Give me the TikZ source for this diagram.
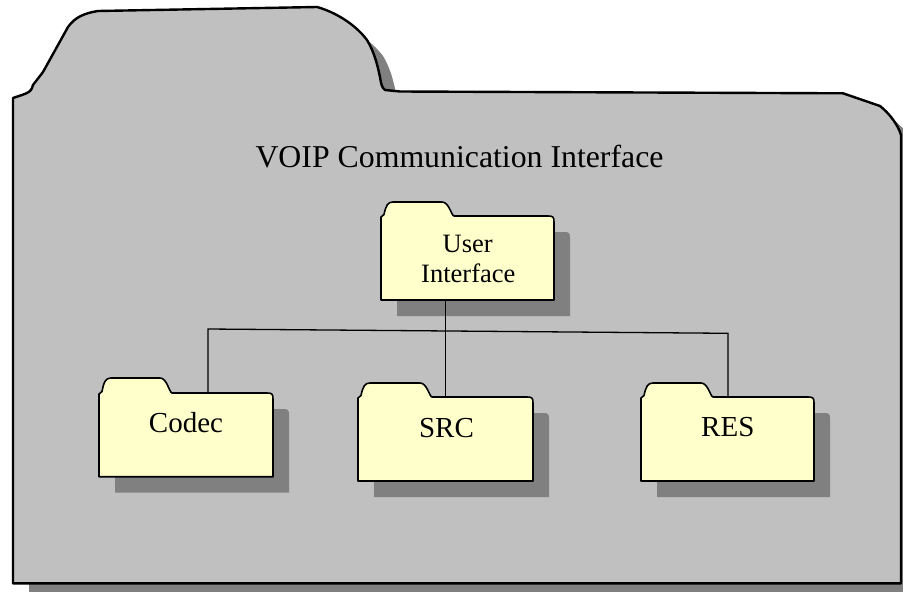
\documentclass[tikz,border=0pt]{standalone}
\usepackage{fontspec}
\setmainfont{Liberation Serif}

\definecolor{paneGray}{HTML}{C0C0C0}
\definecolor{dropGray}{HTML}{808080}
\definecolor{paper}{HTML}{FFFFCC}

\tikzset{
  outer/.style={fill=paneGray, draw=black, line width=2.4pt, line join=round},
  drop/.style={fill=dropGray},
  pkg/.style={fill=paper, draw=black, line width=1.6pt, line join=round},
  wire/.style={draw=black, line width=1.3pt},
  lbl/.style={anchor=base, inner sep=0pt, font=\fontsize{29}{32}\selectfont},
  uilbl/.style={anchor=base, inner sep=0pt, font=\fontsize{26.5}{30}\selectfont},
  ttl/.style={anchor=base, inner sep=0pt, font=\fontsize{31.8}{36}\selectfont},
}

% outline of the large package folder
\def\outerpath{(13,583.3) -- (13,98) -- (22,95)
  .. controls (28,93) and (31,91) .. (32,88) -- (33,85) -- (43,72) -- (68,27)
  .. controls (75,17) and (85,13) .. (98,11) -- (317,7)
  .. controls (335,12) and (355,24) .. (367,40)
  .. controls (375,53) and (378,68) .. (380,77)
  .. controls (381,84) and (382,88) .. (385,90) -- (400,91.5) -- (843,93.3)
  -- (880,106) .. controls (890,114) and (898,125) .. (901,135)
  -- (901,583.3) -- cycle}

% small package folder: name, left, right, shoulder y, bottom y, tab top y, tab right x
\newcommand\pkgshadow[5]{%
  \fill[drop] ({#2+16},{#4+16}) -- ({#3+10},{#4+16})
    .. controls ({#3+15},{#4+16}) and ({#3+16},{#4+17}) .. ({#3+16},{#4+22})
    -- ({#3+16},{#5+16}) -- ({#2+16},{#5+16}) -- cycle;}
\newcommand\pkgfolder[7]{%
  \draw[pkg] (#2,#5) -- (#2,{#4+1}) -- ({#2+3},{#4-1.5})
    .. controls ({#2+5},{#6+3}) and ({#2+7},{#6}) .. ({#2+12},{#6})
    -- ({#7-12},{#6})
    .. controls ({#7-5},{#6}) and ({#7-3},{#4-1}) .. ({#7},{#4})
    -- ({#3-6},{#4})
    .. controls ({#3-1},{#4}) and ({#3},{#4+1}) .. ({#3},{#4+6})
    -- (#3,#5) -- cycle;
  \node[inner sep=0pt, outer sep=0pt,
        minimum width={(#3-#2)*1pt}, minimum height={(#5-#4)*1pt}]
    (#1) at ({(#2+#3)/2},{(#4+#5)/2}) {};}

\begin{document}
\begin{tikzpicture}[x=1pt, y=-1pt]
  \useasboundingbox (0,0) rectangle (903,592);
  \clip (0,0) rectangle (903,592);

  % large package
  \fill[drop, shift={(16,16)}] \outerpath;
  \draw[outer] \outerpath;
  \node[ttl] (title) at (459.5,167.5) {VOIP Communication Interface};

  % drop shadows of the inner packages
  \pkgshadow{ui}{381}{554}{216}{300}
  \pkgshadow{codec}{99}{273}{393}{476.7}
  \pkgshadow{src}{358}{533}{397}{481}
  \pkgshadow{res}{641}{814}{397}{481}

  % inner packages
  \pkgfolder{ui}{381}{554}{216}{300}{202}{454}
  \pkgfolder{codec}{99}{273}{393}{476.7}{378}{172}
  \pkgfolder{src}{358}{533}{397}{481}{383}{432}
  \pkgfolder{res}{641}{814}{397}{481}{383}{713}

  \node[uilbl] (ui-a) at (467.7,252.7) {User};
  \node[uilbl] (ui-b) at (468.3,282.7) {Interface};
  \node[lbl] (codec-t) at (186,432.7) {Codec};
  \node[lbl] (src-t) at (446.5,437.3) {SRC};
  \node[lbl] (res-t) at (727.8,436.7) {RES};

  % dependency tree
  \coordinate (jl) at (208,329);
  \coordinate (jr) at (728,333.3);
  \draw[wire] (ui.south -| src.north) -- (src.north);
  \draw[wire] (codec.north -| jl) -- (jl) -- (jr) -- (res.north -| jr);
\end{tikzpicture}
\end{document}
